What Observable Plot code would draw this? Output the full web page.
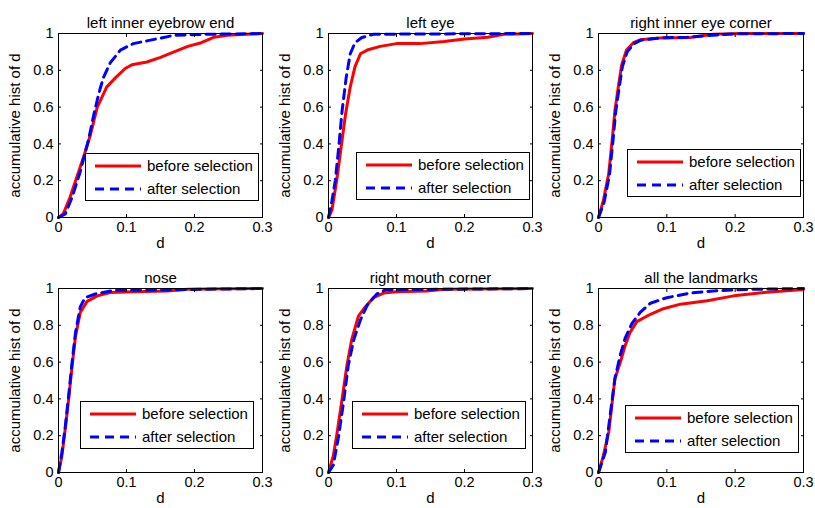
<!DOCTYPE html>
<html><head><meta charset="utf-8">
<script src="https://cdn.jsdelivr.net/npm/d3@7"></script>
<script src="https://cdn.jsdelivr.net/npm/@observablehq/plot@0.6"></script>
<style>
body{margin:0;background:#fff;}
#chart{position:relative;width:815px;height:508px;background:#fff;font-family:"Liberation Sans",Arial,Helvetica,sans-serif;color:#000;}
.panel{position:absolute;}
.panel svg{overflow:visible;}
.legend{position:absolute;border:1px solid #000;background:#fff;width:172px;height:46px;font-size:15px;box-sizing:content-box;}
.legend .row{position:absolute;left:0;height:20px;width:172px;}
.legend svg{position:absolute;left:8px;top:0;}
.legend span{position:absolute;left:61px;top:1px;line-height:18px;white-space:nowrap;}
</style>
</head><body>
<div id="chart"></div>
<script>
// ---- data (d, accumulative hist of d) ----
const titles = ["left inner eyebrow end","left eye","right inner eye corner","nose","right mouth corner","all the landmarks"];
const seriesNames = ["before selection","after selection"];
const xTicks = [0, 0.1, 0.2, 0.3];
const yTicks = [0, 0.2, 0.4, 0.6, 0.8, 1];

const eyebrowBefore = [[0,0],[0.007,0.02],[0.017,0.11],[0.027,0.22],[0.037,0.33],[0.047,0.45],[0.057,0.60],[0.071,0.71],[0.084,0.76],[0.098,0.81],[0.108,0.83],[0.13,0.845],[0.15,0.87],[0.17,0.90],[0.19,0.93],[0.21,0.95],[0.229,0.98],[0.248,0.99],[0.3,1]];
const eyebrowAfter = [[0,0],[0.01,0.02],[0.02,0.11],[0.032,0.25],[0.044,0.42],[0.052,0.56],[0.059,0.67],[0.066,0.76],[0.076,0.84],[0.091,0.91],[0.11,0.945],[0.13,0.96],[0.15,0.975],[0.17,0.99],[0.21,0.995],[0.3,1]];

const eyeBefore = [[0,0],[0.005,0.04],[0.012,0.2],[0.017,0.34],[0.025,0.56],[0.032,0.71],[0.039,0.82],[0.047,0.89],[0.057,0.91],[0.076,0.93],[0.1,0.945],[0.135,0.945],[0.17,0.957],[0.2,0.97],[0.234,0.98],[0.258,0.996],[0.3,1]];
const eyeAfter = [[0,0],[0.005,0.09],[0.01,0.2],[0.015,0.38],[0.02,0.58],[0.026,0.76],[0.032,0.89],[0.039,0.95],[0.049,0.978],[0.066,0.996],[0.3,1]];

const eyeCornerBefore = [[0,0],[0.007,0.09],[0.015,0.24],[0.02,0.42],[0.024,0.58],[0.029,0.71],[0.034,0.83],[0.041,0.91],[0.051,0.95],[0.061,0.966],[0.09,0.975],[0.134,0.978],[0.168,0.996],[0.207,1],[0.3,1]];
const eyeCornerAfter = [[0,0],[0.008,0.08],[0.016,0.23],[0.021,0.41],[0.025,0.57],[0.03,0.70],[0.035,0.82],[0.042,0.90],[0.052,0.945],[0.062,0.964],[0.09,0.976],[0.13,0.98],[0.165,0.99],[0.2,0.998],[0.3,1]];

const noseBefore = [[0,0],[0.005,0.09],[0.01,0.24],[0.015,0.4],[0.02,0.58],[0.025,0.74],[0.032,0.87],[0.042,0.93],[0.057,0.96],[0.076,0.978],[0.11,0.982],[0.16,0.987],[0.19,0.996],[0.3,1]];
const noseAfter = [[0,0],[0.005,0.11],[0.01,0.25],[0.015,0.42],[0.02,0.6],[0.025,0.76],[0.032,0.9],[0.039,0.95],[0.054,0.97],[0.081,0.99],[0.11,0.99],[0.16,0.992],[0.21,0.996],[0.3,1]];

const mouthBefore = [[0,0],[0.007,0.09],[0.012,0.2],[0.02,0.4],[0.027,0.58],[0.034,0.72],[0.044,0.85],[0.054,0.9],[0.066,0.95],[0.081,0.975],[0.1,0.982],[0.145,0.987],[0.17,0.996],[0.3,1]];
const mouthAfter = [[0,0],[0.007,0.04],[0.015,0.2],[0.022,0.38],[0.029,0.58],[0.037,0.72],[0.047,0.83],[0.057,0.91],[0.071,0.97],[0.084,0.993],[0.3,1]];

const allBefore = [[0,0],[0.007,0.09],[0.015,0.22],[0.02,0.38],[0.024,0.51],[0.032,0.6],[0.039,0.69],[0.046,0.76],[0.056,0.82],[0.076,0.86],[0.095,0.89],[0.12,0.915],[0.159,0.933],[0.198,0.96],[0.246,0.98],[0.3,0.995]];
const allAfter = [[0,0],[0.01,0.11],[0.017,0.31],[0.024,0.51],[0.032,0.64],[0.039,0.73],[0.049,0.81],[0.061,0.87],[0.076,0.92],[0.1,0.95],[0.134,0.975],[0.168,0.987],[0.217,0.995],[0.3,1]];

const beforeSeries = [eyebrowBefore, eyeBefore, eyeCornerBefore, noseBefore, mouthBefore, allBefore];
const afterSeries = [eyebrowAfter, eyeAfter, eyeCornerAfter, noseAfter, mouthAfter, allAfter];

// ---- layout (not data) ----
const colLeft = [0, 270, 540], colWidth = [270, 270, 275], plotW = [204, 204, 205];
const rowTop = [0, 255], rowHeight = [255, 253];
const legendPos = [[85,153],[356,152],[627,149],[80,401],[352,401],[625,405]];

const chart = document.getElementById("chart");
const fontFamily = '"Liberation Sans", Arial, Helvetica, sans-serif';

titles.forEach((title, i) => {
  const r = Math.floor(i / 3), c = i % 3;
  const W = colWidth[c], H = rowHeight[r];
  const mL = 58, mT = 33, pH = 184;
  const acc = d => d[0], val = d => d[1];
  const svg = Plot.plot({
    width: W, height: H,
    marginLeft: mL, marginRight: W - mL - plotW[c], marginTop: mT, marginBottom: H - mT - pH,
    x: {domain: [0, 0.3]},
    y: {domain: [0, 1]},
    style: {fontFamily, fontSize: "14.5px", color: "#000", background: "transparent", overflow: "visible"},
    marks: [
      Plot.line(beforeSeries[i], {x: acc, y: val, stroke: "#ff0000", strokeWidth: 3}),
      Plot.line(afterSeries[i], {x: acc, y: val, stroke: "#0000ff", strokeWidth: 3, strokeDasharray: "9,6"}),
      Plot.frame({stroke: "#000", strokeWidth: 1}),
      Plot.axisX(xTicks, {anchor: "bottom", tickSize: -3, tickPadding: 7, tickFormat: d => String(d), label: null}),
      Plot.axisX(xTicks, {anchor: "top", tickSize: -3, tickFormat: () => "", label: null}),
      Plot.axisY(yTicks, {anchor: "left", tickSize: -3, tickPadding: 8, tickFormat: d => String(d), label: null}),
      Plot.axisY(yTicks, {anchor: "right", tickSize: -3, tickFormat: () => "", label: null}),
      Plot.text([title], {text: d => d, frameAnchor: "top", dy: -16, fontSize: 15}),
      Plot.text(["d"], {text: d => d, frameAnchor: "bottom", dy: 30, fontSize: 15}),
      Plot.text(["accumulative hist of d"], {text: d => d, frameAnchor: "left", textAnchor: "middle", dx: -43, rotate: -90, fontSize: 15})
    ]
  });
  const div = document.createElement("div");
  div.className = "panel";
  div.style.left = colLeft[c] + "px";
  div.style.top = rowTop[r] + "px";
  div.appendChild(svg);
  chart.appendChild(div);

  // legend
  const lg = document.createElement("div");
  lg.className = "legend";
  lg.style.left = legendPos[i][0] + "px";
  lg.style.top = legendPos[i][1] + "px";
  const styles = [{stroke: "#ff0000", dash: ""}, {stroke: "#0000ff", dash: "9,6"}];
  seriesNames.forEach((name, k) => {
    const row = document.createElement("div");
    row.className = "row";
    row.style.top = (2 + k * 23) + "px";
    row.innerHTML = `<svg width="48" height="20"><line x1="1" x2="47" y1="10" y2="10" stroke="${styles[k].stroke}" stroke-width="3" ${styles[k].dash ? `stroke-dasharray="${styles[k].dash}"` : ""}/></svg><span>${name}</span>`;
    lg.appendChild(row);
  });
  chart.appendChild(lg);
});
</script>
</body></html>
